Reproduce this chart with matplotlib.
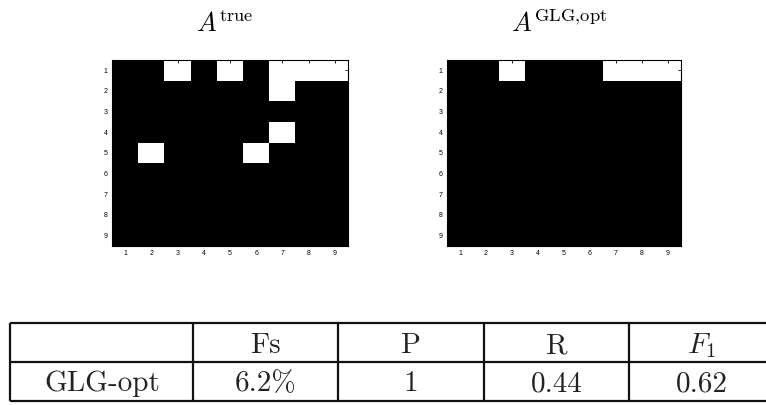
import numpy as np
import matplotlib
matplotlib.use('Agg')
import matplotlib.pyplot as plt

plt.rcParams['mathtext.fontset'] = 'cm'

# adjacency matrices, rows/cols 1..9, 1 = edge (white)
n = 9
true_edges = [(1, 3), (1, 5), (1, 7), (1, 8), (1, 9), (2, 7), (4, 7), (5, 2), (5, 6)]
opt_edges = [(1, 3), (1, 7), (1, 8), (1, 9)]

titles = [r'$A^{\mathrm{true}}$', r'$A^{\mathrm{GLG{,}opt}}$']

# result table
col_labels = ['', 'Fs', 'P', 'R', r'$F_1$']
row_values = ['GLG-opt', '6.2%', '1', '0.44', '0.62']


def to_matrix(edges):
    m = np.zeros((n, n))
    for r, c in edges:
        m[r - 1, c - 1] = 1
    return m


fig = plt.figure(figsize=(7.66, 4.05), dpi=100)
W, H = 766, 405

ax_boxes = [(112, 60, 236, 186), (447, 60, 234, 186)]
for (x0, y0, w, h), edges, title in zip(ax_boxes, [true_edges, opt_edges], titles):
    ax = fig.add_axes([x0 / W, 1 - (y0 + h) / H, w / W, h / H])
    ax.imshow(to_matrix(edges), cmap='gray', vmin=0, vmax=1, aspect='auto',
              interpolation='nearest', extent=(0.5, n + 0.5, n + 0.5, 0.5))
    ax.set_xticks(range(1, n + 1))
    ax.set_yticks(range(1, n + 1))
    ax.tick_params(direction='in', length=2.5, width=0.6, labelsize=5,
                   top=True, right=True, pad=3, colors='black')
    for lab in ax.get_xticklabels() + ax.get_yticklabels():
        lab.set_family('Liberation Sans')
    for s in ax.spines.values():
        s.set_linewidth(0.8)
    fig.text((x0 + w / 2 - 5) / W, 1 - 32 / H, title, ha='center', va='baseline',
             fontsize=19)

# table drawn in pixel coordinates
tab = fig.add_axes([0, 0, 1, 1])
tab.set_xlim(0, W)
tab.set_ylim(H, 0)
tab.axis('off')
col_edges = [10, 193, 338, 484, 629, 775]
row_edges = [323, 362, 401]
for y in row_edges:
    tab.plot([col_edges[0], col_edges[-1]], [y, y], color='#111111', lw=1.6,
             solid_capstyle='butt')
for x in col_edges:
    tab.plot([x, x], [row_edges[0], row_edges[-1]], color='#111111', lw=1.6,
             solid_capstyle='butt')
baselines = [353, 391]
for row, yb in zip([col_labels, row_values], baselines):
    for i, txt in enumerate(row):
        xc = (col_edges[i] + col_edges[i + 1]) / 2
        if i == 0:
            xc = 102
        tab.text(xc, yb, txt, ha='center', va='baseline', fontsize=21,
                 family='cmr10', color='#222222')

fig.savefig('out.png', dpi=100)
